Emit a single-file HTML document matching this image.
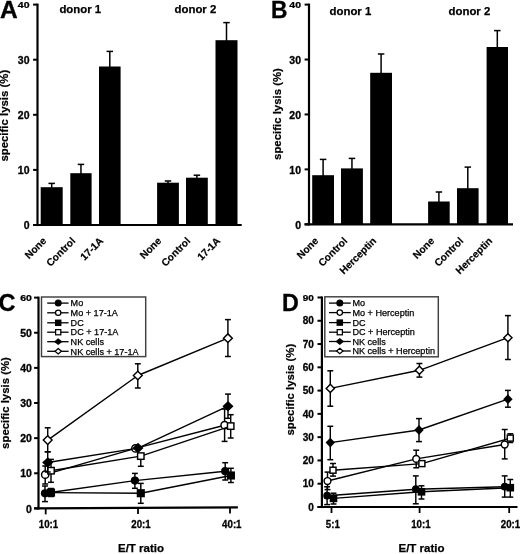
<!DOCTYPE html>
<html><head><meta charset="utf-8"><title>Figure</title>
<style>
html,body{margin:0;padding:0;background:#fff;}
svg{display:block;will-change:transform;filter:grayscale(1);}
</style></head>
<body>
<svg width="520" height="554" viewBox="0 0 520 554">
<rect x="0" y="0" width="520" height="554" fill="#fff"/>
<rect x="40.70" y="187.20" width="22.00" height="37.80" fill="#000" stroke="none" stroke-width="1"/>
<line x1="51.70" y1="183.40" x2="51.70" y2="188.20" stroke="#000" stroke-width="1.5"/>
<line x1="48.45" y1="183.40" x2="54.95" y2="183.40" stroke="#000" stroke-width="1.5"/>
<rect x="70.30" y="173.20" width="21.30" height="51.80" fill="#000" stroke="none" stroke-width="1"/>
<line x1="80.95" y1="164.40" x2="80.95" y2="174.20" stroke="#000" stroke-width="1.5"/>
<line x1="77.70" y1="164.40" x2="84.20" y2="164.40" stroke="#000" stroke-width="1.5"/>
<rect x="99.00" y="66.50" width="21.60" height="158.50" fill="#000" stroke="none" stroke-width="1"/>
<line x1="109.80" y1="51.40" x2="109.80" y2="67.50" stroke="#000" stroke-width="1.5"/>
<line x1="106.55" y1="51.40" x2="113.05" y2="51.40" stroke="#000" stroke-width="1.5"/>
<rect x="157.10" y="182.70" width="21.80" height="42.30" fill="#000" stroke="none" stroke-width="1"/>
<line x1="168.00" y1="181.00" x2="168.00" y2="183.70" stroke="#000" stroke-width="1.5"/>
<line x1="164.75" y1="181.00" x2="171.25" y2="181.00" stroke="#000" stroke-width="1.5"/>
<rect x="186.00" y="177.70" width="21.80" height="47.30" fill="#000" stroke="none" stroke-width="1"/>
<line x1="196.90" y1="175.20" x2="196.90" y2="178.70" stroke="#000" stroke-width="1.5"/>
<line x1="193.65" y1="175.20" x2="200.15" y2="175.20" stroke="#000" stroke-width="1.5"/>
<rect x="215.50" y="40.20" width="22.00" height="184.80" fill="#000" stroke="none" stroke-width="1"/>
<line x1="226.50" y1="22.60" x2="226.50" y2="41.20" stroke="#000" stroke-width="1.5"/>
<line x1="223.25" y1="22.60" x2="229.75" y2="22.60" stroke="#000" stroke-width="1.5"/>
<line x1="37.50" y1="3.60" x2="37.50" y2="226.10" stroke="#000" stroke-width="2.2"/>
<line x1="33.10" y1="225.00" x2="241.70" y2="225.00" stroke="#000" stroke-width="2.2"/>
<line x1="33.10" y1="225.00" x2="37.50" y2="225.00" stroke="#000" stroke-width="2.0"/>
<text transform="translate(29.50 229.20) scale(1.05 1)" x="0" y="0" font-size="10" font-weight="bold" text-anchor="end" font-family="Liberation Sans, sans-serif" stroke="#000" stroke-width="0.3">0</text>
<line x1="33.10" y1="169.90" x2="37.50" y2="169.90" stroke="#000" stroke-width="2.0"/>
<text transform="translate(29.50 174.10) scale(1.05 1)" x="0" y="0" font-size="10" font-weight="bold" text-anchor="end" font-family="Liberation Sans, sans-serif" stroke="#000" stroke-width="0.3">10</text>
<line x1="33.10" y1="114.80" x2="37.50" y2="114.80" stroke="#000" stroke-width="2.0"/>
<text transform="translate(29.50 119.00) scale(1.05 1)" x="0" y="0" font-size="10" font-weight="bold" text-anchor="end" font-family="Liberation Sans, sans-serif" stroke="#000" stroke-width="0.3">20</text>
<line x1="33.10" y1="59.70" x2="37.50" y2="59.70" stroke="#000" stroke-width="2.0"/>
<text transform="translate(29.50 63.90) scale(1.05 1)" x="0" y="0" font-size="10" font-weight="bold" text-anchor="end" font-family="Liberation Sans, sans-serif" stroke="#000" stroke-width="0.3">30</text>
<line x1="33.10" y1="4.60" x2="37.50" y2="4.60" stroke="#000" stroke-width="2.0"/>
<text transform="translate(29.50 8.20) scale(1.05 0.82)" x="0" y="0" font-size="10" font-weight="bold" text-anchor="end" font-family="Liberation Sans, sans-serif" stroke="#000" stroke-width="0.3">40</text>
<text transform="translate(0.00 17.80) scale(1.0 1)" x="0" y="0" font-size="24.5" font-weight="bold" text-anchor="start" font-family="Liberation Sans, sans-serif" stroke="#000" stroke-width="0.35">A</text>
<text x="80.30" y="12.80" font-size="11.4" font-weight="bold" text-anchor="middle" font-family="Liberation Sans, sans-serif" stroke="#000" stroke-width="0.25">donor 1</text>
<text x="195.40" y="12.80" font-size="11.4" font-weight="bold" text-anchor="middle" font-family="Liberation Sans, sans-serif" stroke="#000" stroke-width="0.25">donor 2</text>
<text x="8.50" y="115.70" font-size="11.4" font-weight="bold" text-anchor="middle" font-family="Liberation Sans, sans-serif" transform="rotate(-90 8.50 115.70)" stroke="#000" stroke-width="0.2">specific lysis (%)</text>
<text x="47.00" y="241.50" font-size="10.2" font-weight="bold" text-anchor="end" font-family="Liberation Sans, sans-serif" transform="rotate(-45 47.00 241.50)" stroke="#000" stroke-width="0.2">None</text>
<text x="76.00" y="241.50" font-size="10.2" font-weight="bold" text-anchor="end" font-family="Liberation Sans, sans-serif" transform="rotate(-45 76.00 241.50)" stroke="#000" stroke-width="0.2">Control</text>
<text x="104.00" y="241.50" font-size="10.2" font-weight="bold" text-anchor="end" font-family="Liberation Sans, sans-serif" transform="rotate(-45 104.00 241.50)" stroke="#000" stroke-width="0.2">17-1A</text>
<text x="162.00" y="241.50" font-size="10.2" font-weight="bold" text-anchor="end" font-family="Liberation Sans, sans-serif" transform="rotate(-45 162.00 241.50)" stroke="#000" stroke-width="0.2">None</text>
<text x="191.00" y="241.50" font-size="10.2" font-weight="bold" text-anchor="end" font-family="Liberation Sans, sans-serif" transform="rotate(-45 191.00 241.50)" stroke="#000" stroke-width="0.2">Control</text>
<text x="221.00" y="241.50" font-size="10.2" font-weight="bold" text-anchor="end" font-family="Liberation Sans, sans-serif" transform="rotate(-45 221.00 241.50)" stroke="#000" stroke-width="0.2">17-1A</text>
<rect x="312.20" y="175.20" width="21.80" height="49.10" fill="#000" stroke="none" stroke-width="1"/>
<line x1="323.10" y1="159.40" x2="323.10" y2="176.20" stroke="#000" stroke-width="1.5"/>
<line x1="319.85" y1="159.40" x2="326.35" y2="159.40" stroke="#000" stroke-width="1.5"/>
<rect x="341.00" y="168.40" width="21.90" height="55.90" fill="#000" stroke="none" stroke-width="1"/>
<line x1="351.95" y1="158.40" x2="351.95" y2="169.40" stroke="#000" stroke-width="1.5"/>
<line x1="348.70" y1="158.40" x2="355.20" y2="158.40" stroke="#000" stroke-width="1.5"/>
<rect x="370.20" y="72.80" width="21.80" height="151.50" fill="#000" stroke="none" stroke-width="1"/>
<line x1="381.10" y1="54.00" x2="381.10" y2="73.80" stroke="#000" stroke-width="1.5"/>
<line x1="377.85" y1="54.00" x2="384.35" y2="54.00" stroke="#000" stroke-width="1.5"/>
<rect x="428.10" y="201.50" width="21.60" height="22.80" fill="#000" stroke="none" stroke-width="1"/>
<line x1="438.90" y1="192.00" x2="438.90" y2="202.50" stroke="#000" stroke-width="1.5"/>
<line x1="435.65" y1="192.00" x2="442.15" y2="192.00" stroke="#000" stroke-width="1.5"/>
<rect x="457.00" y="188.20" width="21.60" height="36.10" fill="#000" stroke="none" stroke-width="1"/>
<line x1="467.80" y1="167.10" x2="467.80" y2="189.20" stroke="#000" stroke-width="1.5"/>
<line x1="464.55" y1="167.10" x2="471.05" y2="167.10" stroke="#000" stroke-width="1.5"/>
<rect x="486.60" y="47.00" width="21.40" height="177.30" fill="#000" stroke="none" stroke-width="1"/>
<line x1="497.30" y1="30.60" x2="497.30" y2="48.00" stroke="#000" stroke-width="1.5"/>
<line x1="494.05" y1="30.60" x2="500.55" y2="30.60" stroke="#000" stroke-width="1.5"/>
<line x1="309.00" y1="3.60" x2="309.00" y2="225.40" stroke="#000" stroke-width="2.2"/>
<line x1="304.60" y1="224.30" x2="513.00" y2="224.30" stroke="#000" stroke-width="2.2"/>
<line x1="304.60" y1="224.30" x2="309.00" y2="224.30" stroke="#000" stroke-width="2.0"/>
<text transform="translate(301.00 228.50) scale(1.05 1)" x="0" y="0" font-size="10" font-weight="bold" text-anchor="end" font-family="Liberation Sans, sans-serif" stroke="#000" stroke-width="0.3">0</text>
<line x1="304.60" y1="169.38" x2="309.00" y2="169.38" stroke="#000" stroke-width="2.0"/>
<text transform="translate(301.00 173.57) scale(1.05 1)" x="0" y="0" font-size="10" font-weight="bold" text-anchor="end" font-family="Liberation Sans, sans-serif" stroke="#000" stroke-width="0.3">10</text>
<line x1="304.60" y1="114.45" x2="309.00" y2="114.45" stroke="#000" stroke-width="2.0"/>
<text transform="translate(301.00 118.65) scale(1.05 1)" x="0" y="0" font-size="10" font-weight="bold" text-anchor="end" font-family="Liberation Sans, sans-serif" stroke="#000" stroke-width="0.3">20</text>
<line x1="304.60" y1="59.53" x2="309.00" y2="59.53" stroke="#000" stroke-width="2.0"/>
<text transform="translate(301.00 63.73) scale(1.05 1)" x="0" y="0" font-size="10" font-weight="bold" text-anchor="end" font-family="Liberation Sans, sans-serif" stroke="#000" stroke-width="0.3">30</text>
<line x1="304.60" y1="4.60" x2="309.00" y2="4.60" stroke="#000" stroke-width="2.0"/>
<text transform="translate(301.00 8.20) scale(1.05 0.82)" x="0" y="0" font-size="10" font-weight="bold" text-anchor="end" font-family="Liberation Sans, sans-serif" stroke="#000" stroke-width="0.3">40</text>
<text transform="translate(271.00 17.80) scale(0.93 1)" x="0" y="0" font-size="24.5" font-weight="bold" text-anchor="start" font-family="Liberation Sans, sans-serif" stroke="#000" stroke-width="0.35">B</text>
<text x="350.40" y="15.00" font-size="11.4" font-weight="bold" text-anchor="middle" font-family="Liberation Sans, sans-serif" stroke="#000" stroke-width="0.25">donor 1</text>
<text x="469.40" y="15.00" font-size="11.4" font-weight="bold" text-anchor="middle" font-family="Liberation Sans, sans-serif" stroke="#000" stroke-width="0.25">donor 2</text>
<text x="281.20" y="114.00" font-size="11.4" font-weight="bold" text-anchor="middle" font-family="Liberation Sans, sans-serif" transform="rotate(-90 281.20 114.00)" stroke="#000" stroke-width="0.2">specific lysis (%)</text>
<text x="319.00" y="241.50" font-size="10.2" font-weight="bold" text-anchor="end" font-family="Liberation Sans, sans-serif" transform="rotate(-45 319.00 241.50)" stroke="#000" stroke-width="0.2">None</text>
<text x="348.00" y="241.50" font-size="10.2" font-weight="bold" text-anchor="end" font-family="Liberation Sans, sans-serif" transform="rotate(-45 348.00 241.50)" stroke="#000" stroke-width="0.2">Control</text>
<text x="377.00" y="241.50" font-size="10.2" font-weight="bold" text-anchor="end" font-family="Liberation Sans, sans-serif" transform="rotate(-45 377.00 241.50)" stroke="#000" stroke-width="0.2">Herceptin</text>
<text x="435.00" y="241.50" font-size="10.2" font-weight="bold" text-anchor="end" font-family="Liberation Sans, sans-serif" transform="rotate(-45 435.00 241.50)" stroke="#000" stroke-width="0.2">None</text>
<text x="464.00" y="241.50" font-size="10.2" font-weight="bold" text-anchor="end" font-family="Liberation Sans, sans-serif" transform="rotate(-45 464.00 241.50)" stroke="#000" stroke-width="0.2">Control</text>
<text x="493.00" y="241.50" font-size="10.2" font-weight="bold" text-anchor="end" font-family="Liberation Sans, sans-serif" transform="rotate(-45 493.00 241.50)" stroke="#000" stroke-width="0.2">Herceptin</text>
<line x1="45.00" y1="493.30" x2="134.90" y2="480.60" stroke="#000" stroke-width="1.4"/>
<line x1="134.90" y1="480.60" x2="225.20" y2="471.20" stroke="#000" stroke-width="1.4"/>
<line x1="45.00" y1="486.00" x2="45.00" y2="493.30" stroke="#000" stroke-width="1.45"/>
<line x1="42.05" y1="486.00" x2="47.95" y2="486.00" stroke="#000" stroke-width="1.5"/>
<line x1="45.00" y1="493.30" x2="45.00" y2="501.60" stroke="#000" stroke-width="1.45"/>
<line x1="42.05" y1="501.60" x2="47.95" y2="501.60" stroke="#000" stroke-width="1.5"/>
<line x1="134.90" y1="473.40" x2="134.90" y2="480.60" stroke="#000" stroke-width="1.45"/>
<line x1="131.95" y1="473.40" x2="137.85" y2="473.40" stroke="#000" stroke-width="1.5"/>
<line x1="134.90" y1="480.60" x2="134.90" y2="488.30" stroke="#000" stroke-width="1.45"/>
<line x1="131.95" y1="488.30" x2="137.85" y2="488.30" stroke="#000" stroke-width="1.5"/>
<line x1="225.20" y1="462.70" x2="225.20" y2="471.20" stroke="#000" stroke-width="1.45"/>
<line x1="222.25" y1="462.70" x2="228.15" y2="462.70" stroke="#000" stroke-width="1.5"/>
<line x1="225.20" y1="471.20" x2="225.20" y2="480.00" stroke="#000" stroke-width="1.45"/>
<line x1="222.25" y1="480.00" x2="228.15" y2="480.00" stroke="#000" stroke-width="1.5"/>
<circle cx="45.00" cy="493.30" r="4.12" fill="#000"/>
<circle cx="134.90" cy="480.60" r="4.12" fill="#000"/>
<circle cx="225.20" cy="471.20" r="4.12" fill="#000"/>
<line x1="45.20" y1="474.70" x2="135.40" y2="448.40" stroke="#000" stroke-width="1.4"/>
<line x1="135.40" y1="448.40" x2="224.60" y2="425.20" stroke="#000" stroke-width="1.4"/>
<line x1="45.20" y1="466.00" x2="45.20" y2="474.70" stroke="#000" stroke-width="1.45"/>
<line x1="42.25" y1="466.00" x2="48.15" y2="466.00" stroke="#000" stroke-width="1.5"/>
<line x1="45.20" y1="474.70" x2="45.20" y2="484.00" stroke="#000" stroke-width="1.45"/>
<line x1="42.25" y1="484.00" x2="48.15" y2="484.00" stroke="#000" stroke-width="1.5"/>
<line x1="224.60" y1="409.00" x2="224.60" y2="425.20" stroke="#000" stroke-width="1.45"/>
<line x1="221.65" y1="409.00" x2="227.55" y2="409.00" stroke="#000" stroke-width="1.5"/>
<line x1="224.60" y1="425.20" x2="224.60" y2="441.40" stroke="#000" stroke-width="1.45"/>
<line x1="221.65" y1="441.40" x2="227.55" y2="441.40" stroke="#000" stroke-width="1.5"/>
<circle cx="45.20" cy="474.70" r="3.64" fill="#fff" stroke="#000" stroke-width="1.45"/>
<circle cx="135.40" cy="448.40" r="3.64" fill="#fff" stroke="#000" stroke-width="1.45"/>
<circle cx="224.60" cy="425.20" r="3.64" fill="#fff" stroke="#000" stroke-width="1.45"/>
<line x1="51.00" y1="492.60" x2="140.80" y2="493.20" stroke="#000" stroke-width="1.4"/>
<line x1="140.80" y1="493.20" x2="230.90" y2="475.50" stroke="#000" stroke-width="1.4"/>
<line x1="51.00" y1="488.50" x2="51.00" y2="492.60" stroke="#000" stroke-width="1.45"/>
<line x1="48.05" y1="488.50" x2="53.95" y2="488.50" stroke="#000" stroke-width="1.5"/>
<line x1="51.00" y1="492.60" x2="51.00" y2="496.50" stroke="#000" stroke-width="1.45"/>
<line x1="48.05" y1="496.50" x2="53.95" y2="496.50" stroke="#000" stroke-width="1.5"/>
<line x1="140.80" y1="483.40" x2="140.80" y2="493.20" stroke="#000" stroke-width="1.45"/>
<line x1="137.85" y1="483.40" x2="143.75" y2="483.40" stroke="#000" stroke-width="1.5"/>
<line x1="140.80" y1="493.20" x2="140.80" y2="503.30" stroke="#000" stroke-width="1.45"/>
<line x1="137.85" y1="503.30" x2="143.75" y2="503.30" stroke="#000" stroke-width="1.5"/>
<line x1="230.90" y1="468.30" x2="230.90" y2="475.50" stroke="#000" stroke-width="1.45"/>
<line x1="227.95" y1="468.30" x2="233.85" y2="468.30" stroke="#000" stroke-width="1.5"/>
<line x1="230.90" y1="475.50" x2="230.90" y2="482.50" stroke="#000" stroke-width="1.45"/>
<line x1="227.95" y1="482.50" x2="233.85" y2="482.50" stroke="#000" stroke-width="1.5"/>
<rect x="46.93" y="488.53" width="8.13" height="8.13" fill="#000" stroke="none" stroke-width="1"/>
<rect x="136.73" y="489.13" width="8.13" height="8.13" fill="#000" stroke="none" stroke-width="1"/>
<rect x="226.83" y="471.43" width="8.13" height="8.13" fill="#000" stroke="none" stroke-width="1"/>
<line x1="51.00" y1="470.70" x2="140.80" y2="456.10" stroke="#000" stroke-width="1.4"/>
<line x1="140.80" y1="456.10" x2="230.70" y2="426.10" stroke="#000" stroke-width="1.4"/>
<line x1="51.00" y1="459.40" x2="51.00" y2="470.70" stroke="#000" stroke-width="1.45"/>
<line x1="48.05" y1="459.40" x2="53.95" y2="459.40" stroke="#000" stroke-width="1.5"/>
<line x1="51.00" y1="470.70" x2="51.00" y2="482.30" stroke="#000" stroke-width="1.45"/>
<line x1="48.05" y1="482.30" x2="53.95" y2="482.30" stroke="#000" stroke-width="1.5"/>
<line x1="140.80" y1="456.10" x2="140.80" y2="466.30" stroke="#000" stroke-width="1.45"/>
<line x1="137.85" y1="466.30" x2="143.75" y2="466.30" stroke="#000" stroke-width="1.5"/>
<line x1="230.70" y1="414.70" x2="230.70" y2="426.10" stroke="#000" stroke-width="1.45"/>
<line x1="227.75" y1="414.70" x2="233.65" y2="414.70" stroke="#000" stroke-width="1.5"/>
<line x1="230.70" y1="426.10" x2="230.70" y2="438.00" stroke="#000" stroke-width="1.45"/>
<line x1="227.75" y1="438.00" x2="233.65" y2="438.00" stroke="#000" stroke-width="1.5"/>
<rect x="47.79" y="467.49" width="6.42" height="6.42" fill="#fff" stroke="#000" stroke-width="1.45"/>
<rect x="137.59" y="452.89" width="6.42" height="6.42" fill="#fff" stroke="#000" stroke-width="1.45"/>
<rect x="227.49" y="422.89" width="6.42" height="6.42" fill="#fff" stroke="#000" stroke-width="1.45"/>
<line x1="47.70" y1="462.50" x2="138.00" y2="448.10" stroke="#000" stroke-width="1.4"/>
<line x1="138.00" y1="448.10" x2="228.00" y2="406.20" stroke="#000" stroke-width="1.4"/>
<line x1="47.70" y1="451.80" x2="47.70" y2="462.50" stroke="#000" stroke-width="1.45"/>
<line x1="44.75" y1="451.80" x2="50.65" y2="451.80" stroke="#000" stroke-width="1.5"/>
<line x1="47.70" y1="462.50" x2="47.70" y2="472.00" stroke="#000" stroke-width="1.45"/>
<line x1="44.75" y1="472.00" x2="50.65" y2="472.00" stroke="#000" stroke-width="1.5"/>
<line x1="228.00" y1="394.10" x2="228.00" y2="406.20" stroke="#000" stroke-width="1.45"/>
<line x1="225.05" y1="394.10" x2="230.95" y2="394.10" stroke="#000" stroke-width="1.5"/>
<line x1="228.00" y1="406.20" x2="228.00" y2="418.30" stroke="#000" stroke-width="1.45"/>
<line x1="225.05" y1="418.30" x2="230.95" y2="418.30" stroke="#000" stroke-width="1.5"/>
<path d="M47.70 457.26 L53.23 462.50 L47.70 467.74 L42.17 462.50Z" fill="#000"/>
<path d="M138.00 442.86 L143.53 448.10 L138.00 453.34 L132.47 448.10Z" fill="#000"/>
<path d="M228.00 400.96 L233.53 406.20 L228.00 411.44 L222.47 406.20Z" fill="#000"/>
<line x1="47.70" y1="440.10" x2="137.80" y2="375.50" stroke="#000" stroke-width="1.4"/>
<line x1="137.80" y1="375.50" x2="227.90" y2="338.20" stroke="#000" stroke-width="1.4"/>
<line x1="47.70" y1="427.80" x2="47.70" y2="440.10" stroke="#000" stroke-width="1.45"/>
<line x1="44.75" y1="427.80" x2="50.65" y2="427.80" stroke="#000" stroke-width="1.5"/>
<line x1="47.70" y1="440.10" x2="47.70" y2="451.80" stroke="#000" stroke-width="1.45"/>
<line x1="44.75" y1="451.80" x2="50.65" y2="451.80" stroke="#000" stroke-width="1.5"/>
<line x1="137.80" y1="363.80" x2="137.80" y2="375.50" stroke="#000" stroke-width="1.45"/>
<line x1="134.85" y1="363.80" x2="140.75" y2="363.80" stroke="#000" stroke-width="1.5"/>
<line x1="137.80" y1="375.50" x2="137.80" y2="388.00" stroke="#000" stroke-width="1.45"/>
<line x1="134.85" y1="388.00" x2="140.75" y2="388.00" stroke="#000" stroke-width="1.5"/>
<line x1="227.90" y1="319.60" x2="227.90" y2="338.20" stroke="#000" stroke-width="1.45"/>
<line x1="224.95" y1="319.60" x2="230.85" y2="319.60" stroke="#000" stroke-width="1.5"/>
<line x1="227.90" y1="338.20" x2="227.90" y2="356.50" stroke="#000" stroke-width="1.45"/>
<line x1="224.95" y1="356.50" x2="230.85" y2="356.50" stroke="#000" stroke-width="1.5"/>
<path d="M47.70 435.77 L52.09 440.10 L47.70 444.43 L43.31 440.10Z" fill="#fff" stroke="#000" stroke-width="1.45"/>
<path d="M137.80 371.17 L142.19 375.50 L137.80 379.83 L133.41 375.50Z" fill="#fff" stroke="#000" stroke-width="1.45"/>
<path d="M227.90 333.87 L232.29 338.20 L227.90 342.53 L223.51 338.20Z" fill="#fff" stroke="#000" stroke-width="1.45"/>
<line x1="38.50" y1="296.62" x2="38.50" y2="509.50" stroke="#000" stroke-width="2.2"/>
<line x1="34.10" y1="508.40" x2="237.90" y2="507.40" stroke="#000" stroke-width="2.2"/>
<line x1="34.10" y1="508.40" x2="38.50" y2="508.40" stroke="#000" stroke-width="2.0"/>
<text transform="translate(31.90 512.60) scale(1.05 1)" x="0" y="0" font-size="10" font-weight="bold" text-anchor="end" font-family="Liberation Sans, sans-serif" stroke="#000" stroke-width="0.3">0</text>
<line x1="34.10" y1="473.27" x2="38.50" y2="473.27" stroke="#000" stroke-width="2.0"/>
<text transform="translate(31.90 477.47) scale(1.05 1)" x="0" y="0" font-size="10" font-weight="bold" text-anchor="end" font-family="Liberation Sans, sans-serif" stroke="#000" stroke-width="0.3">10</text>
<line x1="34.10" y1="438.14" x2="38.50" y2="438.14" stroke="#000" stroke-width="2.0"/>
<text transform="translate(31.90 442.34) scale(1.05 1)" x="0" y="0" font-size="10" font-weight="bold" text-anchor="end" font-family="Liberation Sans, sans-serif" stroke="#000" stroke-width="0.3">20</text>
<line x1="34.10" y1="403.01" x2="38.50" y2="403.01" stroke="#000" stroke-width="2.0"/>
<text transform="translate(31.90 407.21) scale(1.05 1)" x="0" y="0" font-size="10" font-weight="bold" text-anchor="end" font-family="Liberation Sans, sans-serif" stroke="#000" stroke-width="0.3">30</text>
<line x1="34.10" y1="367.88" x2="38.50" y2="367.88" stroke="#000" stroke-width="2.0"/>
<text transform="translate(31.90 372.08) scale(1.05 1)" x="0" y="0" font-size="10" font-weight="bold" text-anchor="end" font-family="Liberation Sans, sans-serif" stroke="#000" stroke-width="0.3">40</text>
<line x1="34.10" y1="332.75" x2="38.50" y2="332.75" stroke="#000" stroke-width="2.0"/>
<text transform="translate(31.90 336.95) scale(1.05 1)" x="0" y="0" font-size="10" font-weight="bold" text-anchor="end" font-family="Liberation Sans, sans-serif" stroke="#000" stroke-width="0.3">50</text>
<line x1="34.10" y1="297.62" x2="38.50" y2="297.62" stroke="#000" stroke-width="2.0"/>
<text transform="translate(31.90 301.22) scale(1.05 0.82)" x="0" y="0" font-size="10" font-weight="bold" text-anchor="end" font-family="Liberation Sans, sans-serif" stroke="#000" stroke-width="0.3">60</text>
<line x1="45.70" y1="508.36" x2="45.70" y2="514.36" stroke="#000" stroke-width="1.8"/>
<text transform="translate(48.50 528.20) scale(0.95 1)" x="0" y="0" font-size="10.2" font-weight="bold" text-anchor="middle" font-family="Liberation Sans, sans-serif" stroke="#000" stroke-width="0.3">10:1</text>
<line x1="138.00" y1="507.90" x2="138.00" y2="513.90" stroke="#000" stroke-width="1.8"/>
<text transform="translate(141.00 528.20) scale(0.95 1)" x="0" y="0" font-size="10.2" font-weight="bold" text-anchor="middle" font-family="Liberation Sans, sans-serif" stroke="#000" stroke-width="0.3">20:1</text>
<line x1="230.00" y1="507.44" x2="230.00" y2="513.44" stroke="#000" stroke-width="1.8"/>
<text transform="translate(231.80 528.20) scale(0.95 1)" x="0" y="0" font-size="10.2" font-weight="bold" text-anchor="middle" font-family="Liberation Sans, sans-serif" stroke="#000" stroke-width="0.3">40:1</text>
<text transform="translate(-1.60 311.20) scale(0.96 1)" x="0" y="0" font-size="24.5" font-weight="bold" text-anchor="start" font-family="Liberation Sans, sans-serif" stroke="#000" stroke-width="0.35">C</text>
<text x="9.30" y="403.00" font-size="11.4" font-weight="bold" text-anchor="middle" font-family="Liberation Sans, sans-serif" transform="rotate(-90 9.30 403.00)" stroke="#000" stroke-width="0.2">specific lysis (%)</text>
<text x="141.00" y="552.30" font-size="11.5" font-weight="bold" text-anchor="middle" font-family="Liberation Sans, sans-serif" stroke="#000" stroke-width="0.25">E/T ratio</text>
<rect x="41.50" y="297.00" width="104.20" height="59.60" fill="#fff" stroke="#404040" stroke-width="1.45"/>
<line x1="47.20" y1="303.10" x2="68.60" y2="303.10" stroke="#000" stroke-width="1.3"/>
<circle cx="58.20" cy="303.10" r="3.50" fill="#000"/>
<text x="70.60" y="306.30" font-size="9.1"  text-anchor="start" font-family="Liberation Sans, sans-serif" stroke="#000" stroke-width="0.25">Mo</text>
<line x1="47.20" y1="312.80" x2="68.60" y2="312.80" stroke="#000" stroke-width="1.3"/>
<circle cx="58.20" cy="312.80" r="2.70" fill="#fff" stroke="#000" stroke-width="1.25"/>
<text x="70.60" y="316.00" font-size="9.1"  text-anchor="start" font-family="Liberation Sans, sans-serif" stroke="#000" stroke-width="0.25">Mo + 17-1A</text>
<line x1="47.20" y1="322.80" x2="68.60" y2="322.80" stroke="#000" stroke-width="1.3"/>
<rect x="54.95" y="319.55" width="6.50" height="6.50" fill="#000" stroke="none" stroke-width="1"/>
<text x="70.60" y="326.00" font-size="9.1"  text-anchor="start" font-family="Liberation Sans, sans-serif" stroke="#000" stroke-width="0.25">DC</text>
<line x1="47.20" y1="332.20" x2="68.60" y2="332.20" stroke="#000" stroke-width="1.3"/>
<rect x="55.60" y="329.60" width="5.20" height="5.20" fill="#fff" stroke="#000" stroke-width="1.25"/>
<text x="70.60" y="335.40" font-size="9.1"  text-anchor="start" font-family="Liberation Sans, sans-serif" stroke="#000" stroke-width="0.25">DC + 17-1A</text>
<line x1="47.20" y1="341.70" x2="68.60" y2="341.70" stroke="#000" stroke-width="1.3"/>
<path d="M58.20 338.30 L62.50 341.70 L58.20 345.10 L53.90 341.70Z" fill="#000"/>
<text x="70.60" y="344.90" font-size="9.1"  text-anchor="start" font-family="Liberation Sans, sans-serif" stroke="#000" stroke-width="0.25">NK cells</text>
<line x1="47.20" y1="351.30" x2="68.60" y2="351.30" stroke="#000" stroke-width="1.3"/>
<path d="M58.20 348.60 L61.40 351.30 L58.20 354.00 L55.00 351.30Z" fill="#fff" stroke="#000" stroke-width="1.25"/>
<text x="70.60" y="354.50" font-size="9.1"  text-anchor="start" font-family="Liberation Sans, sans-serif" stroke="#000" stroke-width="0.25">NK cells + 17-1A</text>
<line x1="327.10" y1="495.70" x2="415.80" y2="489.20" stroke="#000" stroke-width="1.4"/>
<line x1="415.80" y1="489.20" x2="504.70" y2="486.70" stroke="#000" stroke-width="1.4"/>
<line x1="327.10" y1="486.80" x2="327.10" y2="495.70" stroke="#000" stroke-width="1.45"/>
<line x1="324.15" y1="486.80" x2="330.05" y2="486.80" stroke="#000" stroke-width="1.5"/>
<line x1="327.10" y1="495.70" x2="327.10" y2="504.60" stroke="#000" stroke-width="1.45"/>
<line x1="324.15" y1="504.60" x2="330.05" y2="504.60" stroke="#000" stroke-width="1.5"/>
<line x1="415.80" y1="475.90" x2="415.80" y2="489.20" stroke="#000" stroke-width="1.45"/>
<line x1="412.85" y1="475.90" x2="418.75" y2="475.90" stroke="#000" stroke-width="1.5"/>
<line x1="415.80" y1="489.20" x2="415.80" y2="503.80" stroke="#000" stroke-width="1.45"/>
<line x1="412.85" y1="503.80" x2="418.75" y2="503.80" stroke="#000" stroke-width="1.5"/>
<line x1="504.70" y1="475.90" x2="504.70" y2="486.70" stroke="#000" stroke-width="1.45"/>
<line x1="501.75" y1="475.90" x2="507.65" y2="475.90" stroke="#000" stroke-width="1.5"/>
<line x1="504.70" y1="486.70" x2="504.70" y2="497.10" stroke="#000" stroke-width="1.45"/>
<line x1="501.75" y1="497.10" x2="507.65" y2="497.10" stroke="#000" stroke-width="1.5"/>
<circle cx="327.10" cy="495.70" r="3.85" fill="#000"/>
<circle cx="415.80" cy="489.20" r="3.85" fill="#000"/>
<circle cx="504.70" cy="486.70" r="3.85" fill="#000"/>
<line x1="327.50" y1="481.00" x2="416.20" y2="458.90" stroke="#000" stroke-width="1.4"/>
<line x1="416.20" y1="458.90" x2="504.70" y2="444.50" stroke="#000" stroke-width="1.4"/>
<line x1="327.50" y1="472.10" x2="327.50" y2="481.00" stroke="#000" stroke-width="1.45"/>
<line x1="324.55" y1="472.10" x2="330.45" y2="472.10" stroke="#000" stroke-width="1.5"/>
<line x1="327.50" y1="481.00" x2="327.50" y2="489.60" stroke="#000" stroke-width="1.45"/>
<line x1="324.55" y1="489.60" x2="330.45" y2="489.60" stroke="#000" stroke-width="1.5"/>
<line x1="416.20" y1="450.20" x2="416.20" y2="458.90" stroke="#000" stroke-width="1.45"/>
<line x1="413.25" y1="450.20" x2="419.15" y2="450.20" stroke="#000" stroke-width="1.5"/>
<line x1="416.20" y1="458.90" x2="416.20" y2="467.80" stroke="#000" stroke-width="1.45"/>
<line x1="413.25" y1="467.80" x2="419.15" y2="467.80" stroke="#000" stroke-width="1.5"/>
<line x1="504.70" y1="429.50" x2="504.70" y2="444.50" stroke="#000" stroke-width="1.45"/>
<line x1="501.75" y1="429.50" x2="507.65" y2="429.50" stroke="#000" stroke-width="1.5"/>
<line x1="504.70" y1="444.50" x2="504.70" y2="458.90" stroke="#000" stroke-width="1.45"/>
<line x1="501.75" y1="458.90" x2="507.65" y2="458.90" stroke="#000" stroke-width="1.5"/>
<circle cx="327.50" cy="481.00" r="3.40" fill="#fff" stroke="#000" stroke-width="1.45"/>
<circle cx="416.20" cy="458.90" r="3.40" fill="#fff" stroke="#000" stroke-width="1.45"/>
<circle cx="504.70" cy="444.50" r="3.40" fill="#fff" stroke="#000" stroke-width="1.45"/>
<line x1="333.50" y1="498.40" x2="421.50" y2="491.80" stroke="#000" stroke-width="1.4"/>
<line x1="421.50" y1="491.80" x2="510.30" y2="487.70" stroke="#000" stroke-width="1.4"/>
<line x1="333.50" y1="493.20" x2="333.50" y2="498.40" stroke="#000" stroke-width="1.45"/>
<line x1="330.55" y1="493.20" x2="336.45" y2="493.20" stroke="#000" stroke-width="1.5"/>
<line x1="333.50" y1="498.40" x2="333.50" y2="504.00" stroke="#000" stroke-width="1.45"/>
<line x1="330.55" y1="504.00" x2="336.45" y2="504.00" stroke="#000" stroke-width="1.5"/>
<line x1="421.50" y1="485.80" x2="421.50" y2="491.80" stroke="#000" stroke-width="1.45"/>
<line x1="418.55" y1="485.80" x2="424.45" y2="485.80" stroke="#000" stroke-width="1.5"/>
<line x1="421.50" y1="491.80" x2="421.50" y2="499.00" stroke="#000" stroke-width="1.45"/>
<line x1="418.55" y1="499.00" x2="424.45" y2="499.00" stroke="#000" stroke-width="1.5"/>
<line x1="510.30" y1="479.50" x2="510.30" y2="487.70" stroke="#000" stroke-width="1.45"/>
<line x1="507.35" y1="479.50" x2="513.25" y2="479.50" stroke="#000" stroke-width="1.5"/>
<line x1="510.30" y1="487.70" x2="510.30" y2="497.10" stroke="#000" stroke-width="1.45"/>
<line x1="507.35" y1="497.10" x2="513.25" y2="497.10" stroke="#000" stroke-width="1.5"/>
<rect x="329.70" y="494.60" width="7.60" height="7.60" fill="#000" stroke="none" stroke-width="1"/>
<rect x="417.70" y="488.00" width="7.60" height="7.60" fill="#000" stroke="none" stroke-width="1"/>
<rect x="506.50" y="483.90" width="7.60" height="7.60" fill="#000" stroke="none" stroke-width="1"/>
<line x1="333.00" y1="470.20" x2="421.90" y2="463.60" stroke="#000" stroke-width="1.4"/>
<line x1="421.90" y1="463.60" x2="510.30" y2="438.10" stroke="#000" stroke-width="1.4"/>
<line x1="333.00" y1="463.50" x2="333.00" y2="470.20" stroke="#000" stroke-width="1.45"/>
<line x1="330.05" y1="463.50" x2="335.95" y2="463.50" stroke="#000" stroke-width="1.5"/>
<line x1="333.00" y1="470.20" x2="333.00" y2="476.10" stroke="#000" stroke-width="1.45"/>
<line x1="330.05" y1="476.10" x2="335.95" y2="476.10" stroke="#000" stroke-width="1.5"/>
<line x1="510.30" y1="433.80" x2="510.30" y2="438.10" stroke="#000" stroke-width="1.45"/>
<line x1="507.35" y1="433.80" x2="513.25" y2="433.80" stroke="#000" stroke-width="1.5"/>
<line x1="510.30" y1="438.10" x2="510.30" y2="442.50" stroke="#000" stroke-width="1.45"/>
<line x1="507.35" y1="442.50" x2="513.25" y2="442.50" stroke="#000" stroke-width="1.5"/>
<rect x="330.00" y="467.20" width="6.00" height="6.00" fill="#fff" stroke="#000" stroke-width="1.45"/>
<rect x="418.90" y="460.60" width="6.00" height="6.00" fill="#fff" stroke="#000" stroke-width="1.45"/>
<rect x="507.30" y="435.10" width="6.00" height="6.00" fill="#fff" stroke="#000" stroke-width="1.45"/>
<line x1="330.30" y1="442.60" x2="419.00" y2="430.00" stroke="#000" stroke-width="1.4"/>
<line x1="419.00" y1="430.00" x2="507.90" y2="399.20" stroke="#000" stroke-width="1.4"/>
<line x1="330.30" y1="426.30" x2="330.30" y2="442.60" stroke="#000" stroke-width="1.45"/>
<line x1="327.35" y1="426.30" x2="333.25" y2="426.30" stroke="#000" stroke-width="1.5"/>
<line x1="330.30" y1="442.60" x2="330.30" y2="459.70" stroke="#000" stroke-width="1.45"/>
<line x1="327.35" y1="459.70" x2="333.25" y2="459.70" stroke="#000" stroke-width="1.5"/>
<line x1="419.00" y1="418.60" x2="419.00" y2="430.00" stroke="#000" stroke-width="1.45"/>
<line x1="416.05" y1="418.60" x2="421.95" y2="418.60" stroke="#000" stroke-width="1.5"/>
<line x1="419.00" y1="430.00" x2="419.00" y2="441.60" stroke="#000" stroke-width="1.45"/>
<line x1="416.05" y1="441.60" x2="421.95" y2="441.60" stroke="#000" stroke-width="1.5"/>
<line x1="507.90" y1="390.40" x2="507.90" y2="399.20" stroke="#000" stroke-width="1.45"/>
<line x1="504.95" y1="390.40" x2="510.85" y2="390.40" stroke="#000" stroke-width="1.5"/>
<line x1="507.90" y1="399.20" x2="507.90" y2="407.20" stroke="#000" stroke-width="1.45"/>
<line x1="504.95" y1="407.20" x2="510.85" y2="407.20" stroke="#000" stroke-width="1.5"/>
<path d="M330.30 437.70 L335.00 442.60 L330.30 447.50 L325.60 442.60Z" fill="#000"/>
<path d="M419.00 425.10 L423.70 430.00 L419.00 434.90 L414.30 430.00Z" fill="#000"/>
<path d="M507.90 394.30 L512.60 399.20 L507.90 404.10 L503.20 399.20Z" fill="#000"/>
<line x1="330.30" y1="388.40" x2="419.40" y2="370.30" stroke="#000" stroke-width="1.4"/>
<line x1="419.40" y1="370.30" x2="507.90" y2="337.70" stroke="#000" stroke-width="1.4"/>
<line x1="330.30" y1="370.80" x2="330.30" y2="388.40" stroke="#000" stroke-width="1.45"/>
<line x1="327.35" y1="370.80" x2="333.25" y2="370.80" stroke="#000" stroke-width="1.5"/>
<line x1="330.30" y1="388.40" x2="330.30" y2="406.20" stroke="#000" stroke-width="1.45"/>
<line x1="327.35" y1="406.20" x2="333.25" y2="406.20" stroke="#000" stroke-width="1.5"/>
<line x1="419.40" y1="363.50" x2="419.40" y2="370.30" stroke="#000" stroke-width="1.45"/>
<line x1="416.45" y1="363.50" x2="422.35" y2="363.50" stroke="#000" stroke-width="1.5"/>
<line x1="419.40" y1="370.30" x2="419.40" y2="377.10" stroke="#000" stroke-width="1.45"/>
<line x1="416.45" y1="377.10" x2="422.35" y2="377.10" stroke="#000" stroke-width="1.5"/>
<line x1="507.90" y1="315.60" x2="507.90" y2="337.70" stroke="#000" stroke-width="1.45"/>
<line x1="504.95" y1="315.60" x2="510.85" y2="315.60" stroke="#000" stroke-width="1.5"/>
<line x1="507.90" y1="337.70" x2="507.90" y2="359.50" stroke="#000" stroke-width="1.45"/>
<line x1="504.95" y1="359.50" x2="510.85" y2="359.50" stroke="#000" stroke-width="1.5"/>
<path d="M330.30 384.35 L334.40 388.40 L330.30 392.45 L326.20 388.40Z" fill="#fff" stroke="#000" stroke-width="1.45"/>
<path d="M419.40 366.25 L423.50 370.30 L419.40 374.35 L415.30 370.30Z" fill="#fff" stroke="#000" stroke-width="1.45"/>
<path d="M507.90 333.65 L512.00 337.70 L507.90 341.75 L503.80 337.70Z" fill="#fff" stroke="#000" stroke-width="1.45"/>
<line x1="321.90" y1="296.48" x2="321.90" y2="508.10" stroke="#000" stroke-width="2.2"/>
<line x1="317.50" y1="507.00" x2="517.50" y2="507.00" stroke="#000" stroke-width="2.2"/>
<line x1="317.50" y1="507.00" x2="321.90" y2="507.00" stroke="#000" stroke-width="2.0"/>
<text transform="translate(313.90 510.70) scale(1.0 1)" x="0" y="0" font-size="10" font-weight="bold" text-anchor="end" font-family="Liberation Sans, sans-serif" stroke="#000" stroke-width="0.3">0</text>
<line x1="317.50" y1="483.72" x2="321.90" y2="483.72" stroke="#000" stroke-width="2.0"/>
<text transform="translate(313.90 487.42) scale(1.0 1)" x="0" y="0" font-size="10" font-weight="bold" text-anchor="end" font-family="Liberation Sans, sans-serif" stroke="#000" stroke-width="0.3">10</text>
<line x1="317.50" y1="460.44" x2="321.90" y2="460.44" stroke="#000" stroke-width="2.0"/>
<text transform="translate(313.90 464.14) scale(1.0 1)" x="0" y="0" font-size="10" font-weight="bold" text-anchor="end" font-family="Liberation Sans, sans-serif" stroke="#000" stroke-width="0.3">20</text>
<line x1="317.50" y1="437.16" x2="321.90" y2="437.16" stroke="#000" stroke-width="2.0"/>
<text transform="translate(313.90 440.86) scale(1.0 1)" x="0" y="0" font-size="10" font-weight="bold" text-anchor="end" font-family="Liberation Sans, sans-serif" stroke="#000" stroke-width="0.3">30</text>
<line x1="317.50" y1="413.88" x2="321.90" y2="413.88" stroke="#000" stroke-width="2.0"/>
<text transform="translate(313.90 417.58) scale(1.0 1)" x="0" y="0" font-size="10" font-weight="bold" text-anchor="end" font-family="Liberation Sans, sans-serif" stroke="#000" stroke-width="0.3">40</text>
<line x1="317.50" y1="390.60" x2="321.90" y2="390.60" stroke="#000" stroke-width="2.0"/>
<text transform="translate(313.90 394.30) scale(1.0 1)" x="0" y="0" font-size="10" font-weight="bold" text-anchor="end" font-family="Liberation Sans, sans-serif" stroke="#000" stroke-width="0.3">50</text>
<line x1="317.50" y1="367.32" x2="321.90" y2="367.32" stroke="#000" stroke-width="2.0"/>
<text transform="translate(313.90 371.02) scale(1.0 1)" x="0" y="0" font-size="10" font-weight="bold" text-anchor="end" font-family="Liberation Sans, sans-serif" stroke="#000" stroke-width="0.3">60</text>
<line x1="317.50" y1="344.04" x2="321.90" y2="344.04" stroke="#000" stroke-width="2.0"/>
<text transform="translate(313.90 347.74) scale(1.0 1)" x="0" y="0" font-size="10" font-weight="bold" text-anchor="end" font-family="Liberation Sans, sans-serif" stroke="#000" stroke-width="0.3">70</text>
<line x1="317.50" y1="320.76" x2="321.90" y2="320.76" stroke="#000" stroke-width="2.0"/>
<text transform="translate(313.90 324.46) scale(1.0 1)" x="0" y="0" font-size="10" font-weight="bold" text-anchor="end" font-family="Liberation Sans, sans-serif" stroke="#000" stroke-width="0.3">80</text>
<line x1="317.50" y1="297.48" x2="321.90" y2="297.48" stroke="#000" stroke-width="2.0"/>
<text transform="translate(313.90 301.08) scale(1.0 0.82)" x="0" y="0" font-size="10" font-weight="bold" text-anchor="end" font-family="Liberation Sans, sans-serif" stroke="#000" stroke-width="0.3">90</text>
<line x1="331.50" y1="507.00" x2="331.50" y2="513.00" stroke="#000" stroke-width="1.8"/>
<text transform="translate(332.80 527.60) scale(0.95 1)" x="0" y="0" font-size="10.2" font-weight="bold" text-anchor="middle" font-family="Liberation Sans, sans-serif" stroke="#000" stroke-width="0.3">5:1</text>
<line x1="419.60" y1="507.00" x2="419.60" y2="513.00" stroke="#000" stroke-width="1.8"/>
<text transform="translate(420.90 527.60) scale(0.95 1)" x="0" y="0" font-size="10.2" font-weight="bold" text-anchor="middle" font-family="Liberation Sans, sans-serif" stroke="#000" stroke-width="0.3">10:1</text>
<line x1="509.20" y1="507.00" x2="509.20" y2="513.00" stroke="#000" stroke-width="1.8"/>
<text transform="translate(510.50 527.60) scale(0.95 1)" x="0" y="0" font-size="10.2" font-weight="bold" text-anchor="middle" font-family="Liberation Sans, sans-serif" stroke="#000" stroke-width="0.3">20:1</text>
<text transform="translate(282.00 311.20) scale(0.95 1)" x="0" y="0" font-size="24.5" font-weight="bold" text-anchor="start" font-family="Liberation Sans, sans-serif" stroke="#000" stroke-width="0.35">D</text>
<text x="293.60" y="389.60" font-size="11.4" font-weight="bold" text-anchor="middle" font-family="Liberation Sans, sans-serif" transform="rotate(-90 293.60 389.60)" stroke="#000" stroke-width="0.2">specific lysis (%)</text>
<text x="421.50" y="552.40" font-size="11.5" font-weight="bold" text-anchor="middle" font-family="Liberation Sans, sans-serif" stroke="#000" stroke-width="0.25">E/T ratio</text>
<rect x="324.80" y="296.80" width="113.50" height="60.00" fill="#fff" stroke="#404040" stroke-width="1.45"/>
<line x1="329.00" y1="303.10" x2="350.80" y2="303.10" stroke="#000" stroke-width="1.3"/>
<circle cx="339.80" cy="303.10" r="3.50" fill="#000"/>
<text x="352.40" y="306.30" font-size="9.1"  text-anchor="start" font-family="Liberation Sans, sans-serif" stroke="#000" stroke-width="0.25">Mo</text>
<line x1="329.00" y1="312.60" x2="350.80" y2="312.60" stroke="#000" stroke-width="1.3"/>
<circle cx="339.80" cy="312.60" r="2.70" fill="#fff" stroke="#000" stroke-width="1.25"/>
<text x="352.40" y="315.80" font-size="9.1"  text-anchor="start" font-family="Liberation Sans, sans-serif" stroke="#000" stroke-width="0.25">Mo + Herceptin</text>
<line x1="329.00" y1="322.60" x2="350.80" y2="322.60" stroke="#000" stroke-width="1.3"/>
<rect x="336.55" y="319.35" width="6.50" height="6.50" fill="#000" stroke="none" stroke-width="1"/>
<text x="352.40" y="325.80" font-size="9.1"  text-anchor="start" font-family="Liberation Sans, sans-serif" stroke="#000" stroke-width="0.25">DC</text>
<line x1="329.00" y1="332.20" x2="350.80" y2="332.20" stroke="#000" stroke-width="1.3"/>
<rect x="337.20" y="329.60" width="5.20" height="5.20" fill="#fff" stroke="#000" stroke-width="1.25"/>
<text x="352.40" y="335.40" font-size="9.1"  text-anchor="start" font-family="Liberation Sans, sans-serif" stroke="#000" stroke-width="0.25">DC + Herceptin</text>
<line x1="329.00" y1="341.50" x2="350.80" y2="341.50" stroke="#000" stroke-width="1.3"/>
<path d="M339.80 338.10 L344.10 341.50 L339.80 344.90 L335.50 341.50Z" fill="#000"/>
<text x="352.40" y="344.70" font-size="9.1"  text-anchor="start" font-family="Liberation Sans, sans-serif" stroke="#000" stroke-width="0.25">NK cells</text>
<line x1="329.00" y1="351.00" x2="350.80" y2="351.00" stroke="#000" stroke-width="1.3"/>
<path d="M339.80 348.30 L343.00 351.00 L339.80 353.70 L336.60 351.00Z" fill="#fff" stroke="#000" stroke-width="1.25"/>
<text x="352.40" y="354.20" font-size="9.1"  text-anchor="start" font-family="Liberation Sans, sans-serif" stroke="#000" stroke-width="0.25">NK cells + Herceptin</text>
</svg>
</body></html>
